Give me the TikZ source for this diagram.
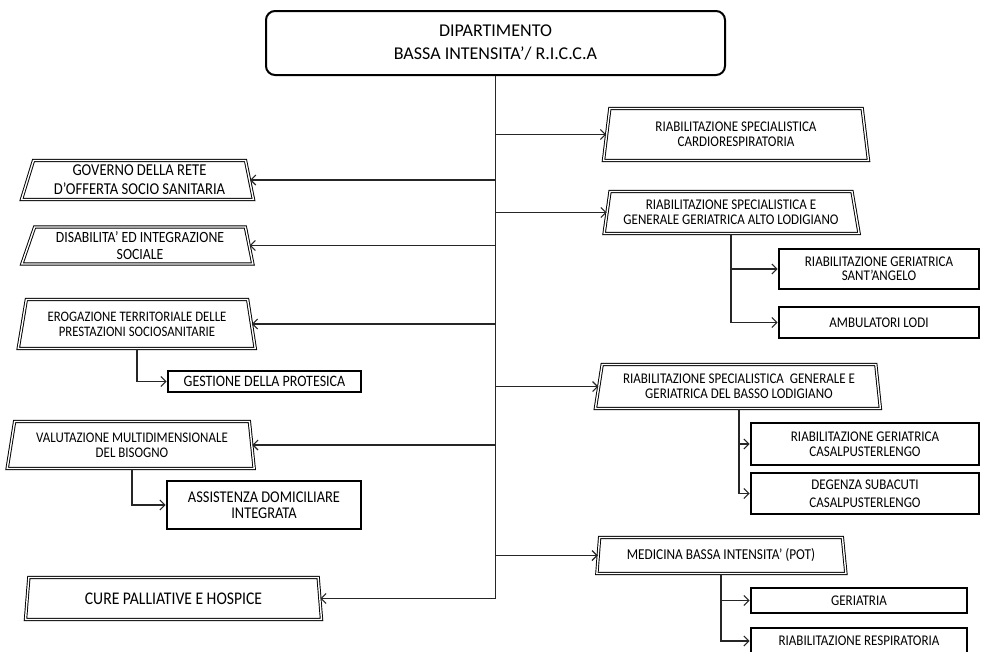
\documentclass[tikz,border=0pt]{standalone}
\usepackage{fontspec}
\setmainfont{Carlito}
\newfontfamily\narrowfont{Carlito}[FakeStretch=0.88]
\usetikzlibrary{shapes.geometric,arrows.meta}
\newcommand{\nf}[2]{\narrowfont\fontsize{#1}{#2}\selectfont}
\begin{document}
\begin{tikzpicture}[x=1pt,y=-1pt,
  wire/.style={draw=black!85, line width=1.1pt},
  arr/.style={wire, -{Straight Barb[length=5pt,width=10pt,line width=1.1pt]}},
  head/.style={rectangle, rounded corners=9pt, draw=black, line width=2pt,
    align=center, inner sep=0pt, font=\fontsize{18}{23}\selectfont},
  unit/.style={trapezium, trapezium stretches body, draw=black, line width=0.95pt,
    double=white, double distance=1.4pt, inner sep=1pt, align=center,
    font=\nf{14.8}{15}},
  subunit/.style={rectangle, draw=black, line width=2.8pt, inner sep=0pt,
    align=center, font=\nf{14.8}{15}},
]
\path[use as bounding box, clip] (0,0) rectangle (982,651);

% department header
\node[head, minimum width=459pt, minimum height=64pt] (top) at (495.5,43)
  {DIPARTIMENTO\\BASSA INTENSITA’/ R.I.C.C.A};

% left-hand units
\node[unit, minimum width=232pt, minimum height=39pt, trapezium left angle=69.4,
  trapezium right angle=76, font=\nf{16.6}{19}] (L1) at (139.5,180)
  {GOVERNO DELLA RETE\\D’OFFERTA SOCIO SANITARIA};
\node[unit, minimum width=231pt, minimum height=37pt, trapezium left angle=67,
  trapezium right angle=76, font=\nf{15.6}{17}] (L2) at (140,245.5)
  {DISABILITA’ ED INTEGRAZIONE\\SOCIALE};
\node[unit, minimum width=237pt, minimum height=49pt, trapezium left angle=73,
  trapezium right angle=74, font=\nf{14.5}{15}] (L3) at (137,324)
  {EROGAZIONE TERRITORIALE DELLE\\PRESTAZIONI SOCIOSANITARIE};
\node[unit, minimum width=247pt, minimum height=47pt, trapezium left angle=74.4,
  trapezium right angle=79.8, font=\nf{14.7}{15}] (L4) at (132,445)
  {VALUTAZIONE MULTIDIMENSIONALE\\DEL BISOGNO};
\node[unit, minimum width=296pt, minimum height=42pt, trapezium left angle=76.3,
  trapezium right angle=76.3, font=\nf{17.8}{19}] (L5) at (173.5,598.5)
  {CURE PALLIATIVE E HOSPICE};

% right-hand units
\node[unit, minimum width=265pt, minimum height=52pt, trapezium left angle=76.7,
  trapezium right angle=76.7] (R1) at (736,134.5)
  {RIABILITAZIONE SPECIALISTICA\\CARDIORESPIRATORIA};
\node[unit, minimum width=255pt, minimum height=42pt, trapezium left angle=77.5,
  trapezium right angle=75.1] (R2) at (731,212.5)
  {RIABILITAZIONE SPECIALISTICA E\\GENERALE GERIATRICA ALTO LODIGIANO};
\node[unit, minimum width=285pt, minimum height=44pt, trapezium left angle=75.7,
  trapezium right angle=80.3] (R3) at (739,386.5)
  {RIABILITAZIONE SPECIALISTICA\ \ GENERALE E\\GERIATRICA DEL BASSO LODIGIANO};
\node[unit, minimum width=249pt, minimum height=36pt, trapezium left angle=79.8,
  trapezium right angle=77, font=\nf{15.1}{16}] (R4) at (721,555.5)
  {MEDICINA BASSA INTENSITA’ (POT)};

% sub-units
\node[subunit, minimum width=193pt, minimum height=21pt, font=\nf{15.9}{16}]
  (GP) at (264.5,381.5) {GESTIONE DELLA PROTESICA};
\node[subunit, minimum width=194pt, minimum height=48pt, font=\nf{16.4}{16.5}]
  (AD) at (264,505) {ASSISTENZA DOMICILIARE\\INTEGRATA};
\node[subunit, minimum width=200pt, minimum height=40pt, font=\nf{14.8}{14}]
  (SA) at (879,269) {RIABILITAZIONE GERIATRICA\\SANT’ANGELO};
\node[subunit, minimum width=200pt, minimum height=31pt] (AL) at (879,322.5) {AMBULATORI LODI};
\node[subunit, minimum width=228pt, minimum height=42pt, font=\nf{14.8}{14.5}]
  (CA) at (865,444) {RIABILITAZIONE GERIATRICA\\CASALPUSTERLENGO};
\node[subunit, minimum width=228pt, minimum height=41pt, font=\nf{14.8}{18}]
  (DG) at (865,493.5) {DEGENZA SUBACUTI\\CASALPUSTERLENGO};
\node[subunit, minimum width=216pt, minimum height=25pt] (GE) at (859,600.5) {GERIATRIA};
\node[subunit, minimum width=216pt, minimum height=26pt] (RR) at (859,641) {RIABILITAZIONE RESPIRATORIA};

% trunk and branches
\draw[wire] (top.south) -- (top.south |- L5.east);
\foreach \n in {L1,L2,L3,L4,L5} \draw[arr] (top.south |- \n.east) -- (\n.east);
\foreach \n in {R1,R2,R3,R4} \draw[arr] (top.south |- \n.west) -- (\n.west);

% sub-unit connectors
\draw[arr] (L3.south) |- (GP.west);
\draw[arr] (L4.south) |- (AD.west);
\draw[arr] (R2.south) |- (SA.west);
\draw[arr] (R2.south) |- (AL.west);
\draw[arr] (R3.south) |- (CA.west);
\draw[arr] (R3.south) |- (DG.west);
\draw[arr] (R4.south) |- (GE.west);
\draw[arr] (R4.south) |- (RR.west);
\end{tikzpicture}
\end{document}
